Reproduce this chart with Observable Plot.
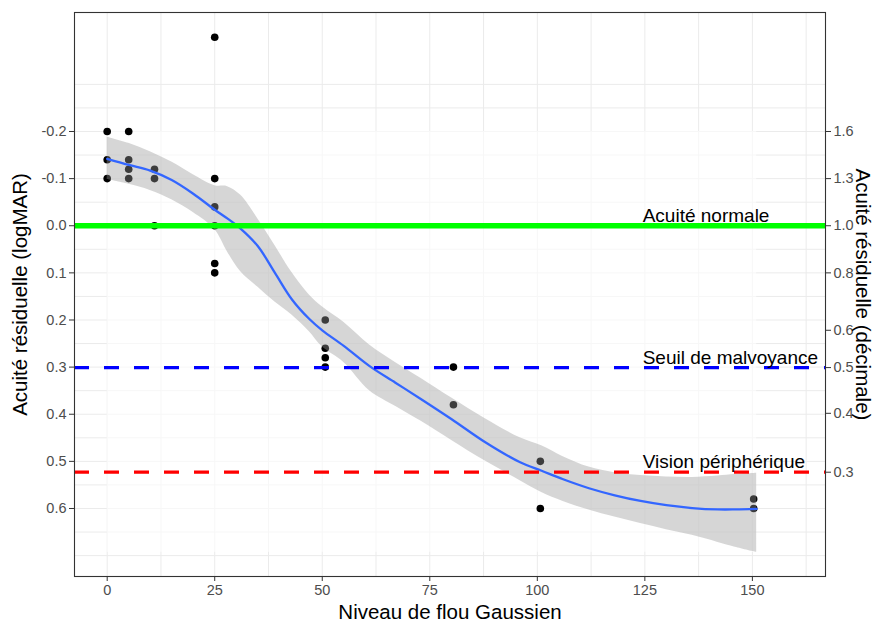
<!DOCTYPE html>
<html><head><meta charset="utf-8">
<script src="https://cdn.jsdelivr.net/npm/d3@7"></script>
<script src="https://cdn.jsdelivr.net/npm/@observablehq/plot@0.6"></script>
<style>body{margin:0;background:#fff} #chart svg{display:block}</style>
</head><body><div id="chart"></div>
<script>
// Observations: blur level (x) and residual acuity in logMAR (y)
const ptX = [0,0,0, 5,5,5,5, 11,11,11, 25,25,25,25,25,25, 50.7,50.7,50.7,50.7, 80.5,80.5, 100.7,100.7, 150.3,150.3];
const ptY = [-0.2,-0.14,-0.1, -0.2,-0.14,-0.12,-0.1, -0.12,-0.1,0.0, -0.4,-0.1,-0.04,0.0,0.08,0.1, 0.2,0.26,0.28,0.3, 0.3,0.38, 0.5,0.6, 0.58,0.6];

// LOESS smooth and its confidence band
const smoothX  = [0,5,10,15,20,25,28,31,35,39,43,47,50,55,61,67,73,80,88,96,101,106,112,118,124,130,136,142,146,151];
const smoothY  = [-0.142,-0.129,-0.117,-0.097,-0.068,-0.034,-0.015,0.006,0.043,0.1,0.157,0.198,0.222,0.255,0.298,0.333,0.368,0.41,0.46,0.502,0.52,0.538,0.557,0.572,0.584,0.593,0.599,0.602,0.602,0.601];
const ribbonLo = [-0.188,-0.175,-0.157,-0.135,-0.108,-0.085,-0.083,-0.065,-0.015,0.042,0.1,0.147,0.172,0.205,0.253,0.29,0.324,0.365,0.41,0.45,0.467,0.49,0.512,0.524,0.53,0.533,0.534,0.531,0.528,0.525];
const ribbonHi = [-0.098,-0.088,-0.075,-0.055,-0.028,0.008,0.056,0.097,0.13,0.162,0.19,0.225,0.257,0.29,0.35,0.383,0.415,0.455,0.5,0.541,0.566,0.585,0.603,0.618,0.632,0.645,0.657,0.672,0.682,0.693];

// Reference lines
const refValues = [0, 0.301, 0.523];
const refLabels = ["Acuité normale", "Seuil de malvoyance", "Vision périphérique"];
const refLabelX = 124.5;

// Axes
const xTicks = [0,25,50,75,100,125,150];
const xGrid = [0,12.5,25,37.5,50,62.5,75,87.5,100,112.5,125,137.5,150,162.5];
const yTicks = [-0.2,-0.1,0,0.1,0.2,0.3,0.4,0.5,0.6];
const yGrid = [-0.3,-0.25,-0.2,-0.15,-0.1,-0.05,0,0.05,0.1,0.15,0.2,0.25,0.3,0.35,0.4,0.45,0.5,0.55,0.6,0.65,0.7];
const rightTickPos = [-0.2,-0.1,0,0.1,0.2218,0.301,0.398,0.523];
const rightTickLabels = ["1.6","1.3","1.0","0.8","0.6","0.5","0.4","0.3"];

const xTitle = "Niveau de flou Gaussien";
const yTitle = "Acuité résiduelle (logMAR)";
const y2Title = "Acuité résiduelle (décimale)";

const points = ptX.map((x, i) => ({x, y: ptY[i]}));
const smooth = smoothX.map((x, i) => ({x, y: smoothY[i], lo: ribbonLo[i], hi: ribbonHi[i]}));
const refs = refValues.map((y, i) => ({y, label: refLabels[i], x: refLabelX}));

const FONT = "'Liberation Sans', Arial, Helvetica, sans-serif";

const chart = Plot.plot({
  width: 879, height: 628,
  marginLeft: 74, marginRight: 54, marginTop: 12, marginBottom: 52,
  style: {fontFamily: FONT, fontSize: "14.5px", color: "#4d4d4d", background: "#fff"},
  x: {domain: [-7.6, 167]},
  y: {domain: [-0.4525, 0.7443], reverse: true},
  marks: [
    Plot.ruleX(xGrid, {stroke: "#ebebeb", strokeWidth: 1}),
    Plot.ruleY(yGrid, {stroke: "#ebebeb", strokeWidth: 1}),
    Plot.rect([0], {x1: () => d3.min(ptX), x2: () => d3.max(smoothX), y1: () => -0.2, y2: () => d3.max(ribbonHi), fill: "#fff", fillOpacity: 0.6}),
    Plot.dot(points, {x: "x", y: "y", r: 3.8, fill: "#000", stroke: "none"}),
    Plot.areaY(smooth, {x: "x", y1: "lo", y2: "hi", fill: "#999999", fillOpacity: 0.4, curve: "catmull-rom"}),
    Plot.line(smooth, {x: "x", y: "y", stroke: "#3366FF", strokeWidth: 2.3, curve: "catmull-rom"}),
    Plot.ruleY([refs[0]], {y: "y", stroke: "#00FF00", strokeWidth: 5.5}),
    Plot.ruleY([refs[1]], {y: "y", stroke: "#0000FF", strokeWidth: 3.2, strokeDasharray: "15,15"}),
    Plot.ruleY([refs[2]], {y: "y", stroke: "#FF0000", strokeWidth: 3.2, strokeDasharray: "15,15"}),
    Plot.text(refs, {x: "x", y: "y", text: "label", textAnchor: "start", dy: -10, fontSize: 19, fill: "#000", fontFamily: FONT}),
    Plot.frame({stroke: "#333", strokeWidth: 1.1}),
    Plot.axisX({ticks: xTicks, tickSize: 5, tickPadding: 3, label: null, stroke: "#333", fill: "#4d4d4d"}),
    Plot.axisY({anchor: "left", ticks: yTicks, tickFormat: d => d.toFixed(1), tickSize: 5, tickPadding: 3, label: null, stroke: "#333", fill: "#4d4d4d"}),
    Plot.axisY({anchor: "right", ticks: rightTickPos, tickFormat: (d, i) => rightTickLabels[i], tickSize: 5, tickPadding: 3, label: null, stroke: "#333", fill: "#4d4d4d"}),
    Plot.text([xTitle], {frameAnchor: "bottom", dy: 36, textAnchor: "middle", lineAnchor: "middle", text: d => d, fontSize: 20.5, fill: "#000", fontFamily: FONT}),
    Plot.text([yTitle], {frameAnchor: "left", dx: -54, rotate: -90, textAnchor: "middle", lineAnchor: "middle", text: d => d, fontSize: 20.5, fill: "#000", fontFamily: FONT}),
    Plot.text([y2Title], {frameAnchor: "right", dx: 37, rotate: 90, textAnchor: "middle", lineAnchor: "middle", text: d => d, fontSize: 20.5, fill: "#000", fontFamily: FONT})
  ]
});
document.getElementById("chart").appendChild(chart);
</script>
</body></html>
